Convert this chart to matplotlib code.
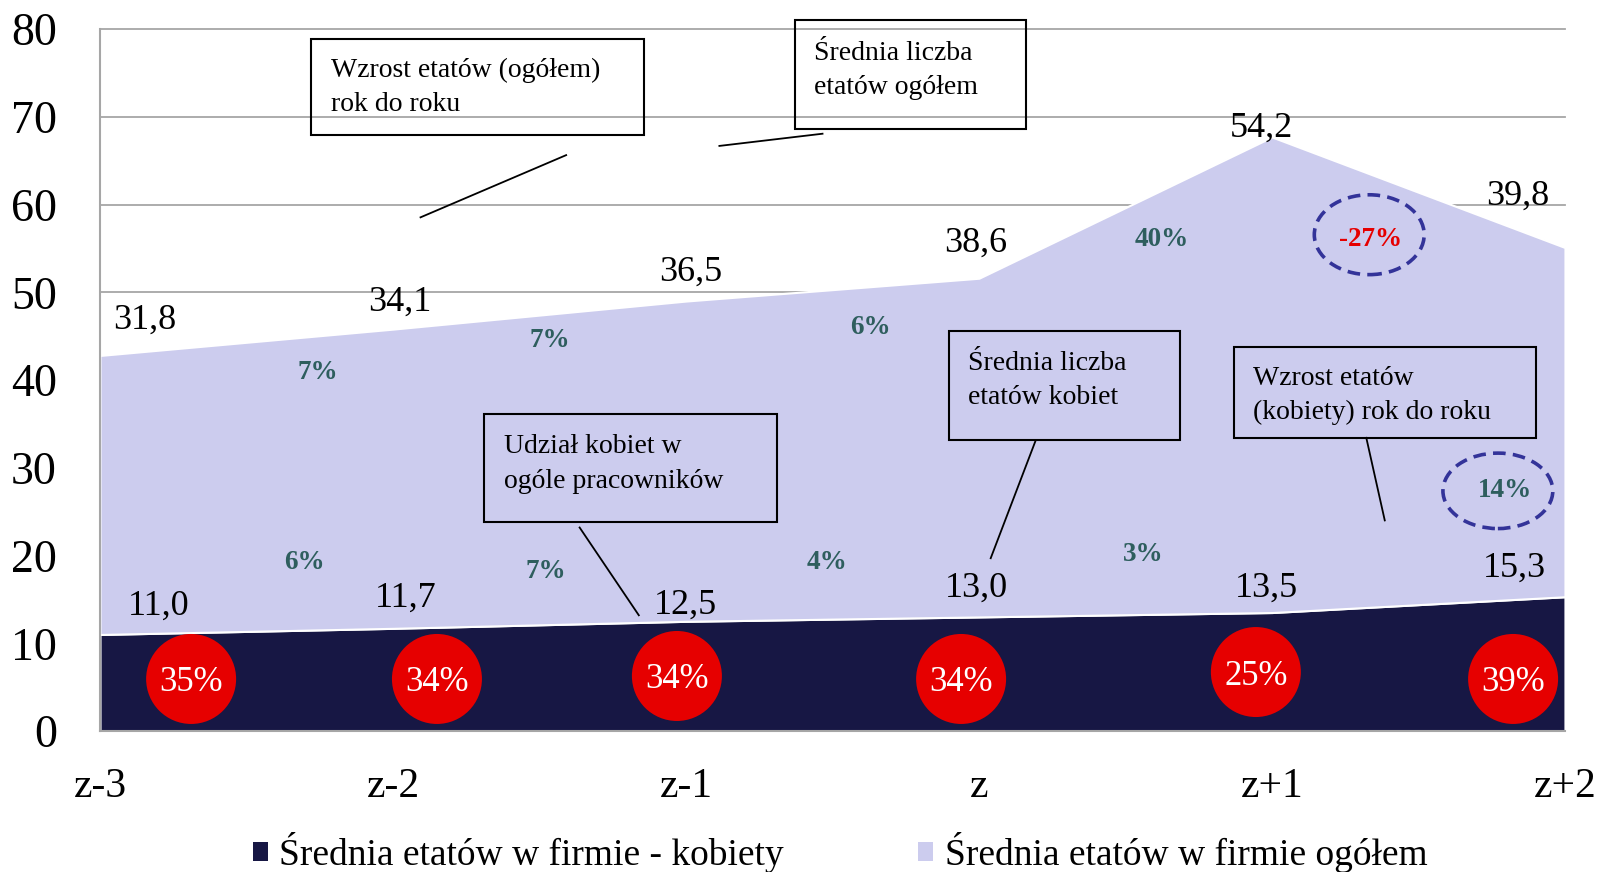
import matplotlib
matplotlib.use("Agg")
import matplotlib.pyplot as plt
from matplotlib.patches import Rectangle, Ellipse, Patch
import numpy as np

plt.rcParams['font.family'] = ['Liberation Serif', 'DejaVu Serif']

# ---- data -------------------------------------------------------------
years = ["z-3", "z-2", "z-1", "z", "z+1", "z+2"]
kobiety = [11.0, 11.7, 12.5, 13.0, 13.5, 15.3]          # average FTEs, women
ogolem = [31.8, 34.1, 36.5, 38.6, 54.2, 39.8]           # average FTEs, total
wzrost_ogolem = ["7%", "7%", "6%", "40%", "-27%"]       # y/y growth, total
wzrost_kobiety = ["6%", "7%", "4%", "3%", "14%"]        # y/y growth, women
udzial_kobiet = ["35%", "34%", "34%", "34%", "25%", "39%"]  # women share
y_ticks = list(range(0, 90, 10))
series_names = ["Średnia etatów w firmie - kobiety",
                "Średnia etatów w firmie ogółem"]

# ---- label placement (data coordinates) --------------------------------
total_label_pos = [(0.153, 47.3), (1.024, 49.35), (2.016, 52.7),
                   (2.990, 56.1), (3.963, 69.2), (4.837, 61.45)]
women_label_pos = [(0.199, 14.7), (1.045, 15.6), (1.999, 14.8),
                   (2.992, 16.7), (3.981, 16.7), (4.827, 19.0)]
growth_total_pos = [(0.742, 41.2), (1.536, 44.8), (2.629, 46.3),
                    (3.625, 56.4), (4.336, 56.4)]
growth_women_pos = [(0.697, 19.5), (1.522, 18.5), (2.480, 19.6),
                    (3.559, 20.5), (4.796, 27.7)]
share_pos = [(0.311, 5.93), (1.150, 5.93), (1.969, 6.27),
             (2.939, 5.93), (3.945, 6.72), (4.823, 5.93)]

# callout boxes: (x0, x1, y_bottom, y_top, text_x, [line centre ys], lines)
callouts = [
    (0.721, 1.856, 67.95, 78.88, 0.790, [75.63, 71.79],
     ["Wzrost etatów (ogółem)", "rok do roku"]),
    (2.372, 3.159, 68.65, 80.98, 2.438, [77.61, 73.65],
     ["Średnia liczba", "etatów ogółem"]),
    (1.309, 2.309, 23.77, 36.09, 1.379, [32.72, 28.76],
     ["Udział kobiet w", "ogóle pracowników"]),
    (2.898, 3.685, 33.18, 45.63, 2.964, [42.26, 38.30],
     ["Średnia liczba", "etatów kobiet"]),
    (3.869, 4.900, 33.41, 43.77, 3.935, [40.51, 36.67],
     ["Wzrost etatów", "(kobiety) rok do roku"]),
]
leaders = [
    ((1.591, 65.63), (1.094, 58.54)),
    ((2.466, 68.07), (2.114, 66.68)),
    ((1.637, 23.19), (1.839, 13.19)),
    ((3.193, 33.07), (3.040, 19.69)),
    ((4.322, 33.41), (4.385, 24.00)),
]
# dashed highlight ellipses: (x, y, width, height)
highlights = [(4.332, 56.56, 0.375, 9.1), (4.771, 27.37, 0.375, 8.6)]

# ---- style -------------------------------------------------------------
NAVY = "#171744"
LAVENDER = "#CCCCEE"
RED = "#E60000"
TEAL = "#2E5E5E"
DASH = "#333399"
GRID = "#A6A6A6"


def fmt(v):
    return f"{v:.1f}".replace(".", ",")


fig = plt.figure(figsize=(16, 8.72), dpi=100)
ax = fig.add_axes([0.0625, 0.1617, 0.9156, 0.805])

x = np.arange(len(years))
ax.stackplot(x, kobiety, ogolem, colors=[NAVY, LAVENDER],
             edgecolor="white", linewidth=1.5, zorder=2)

ax.set_xlim(0, len(years) - 1)
ax.set_ylim(0, 80)
ax.set_yticks(y_ticks)
ax.set_xticks(x)
ax.set_xticklabels(years)
ax.tick_params(axis="y", length=0, pad=31, labelsize=33)
ax.tick_params(axis="x", length=0, pad=26, labelsize=30)
ax.set_axisbelow(True)
ax.grid(axis="y", color=GRID, lw=1.3)
ax.grid(axis="x", visible=False)
for gl in ax.get_ygridlines():
    gl.set_clip_on(False)
for s in ["top", "right"]:
    ax.spines[s].set_visible(False)
for s in ["left", "bottom"]:
    ax.spines[s].set_color(GRID)
    ax.spines[s].set_linewidth(1.5)
    ax.spines[s].set_zorder(3)

# value labels
for (px, py), v in zip(total_label_pos, ogolem):
    ax.text(px, py, fmt(v), fontsize=26, ha="center", va="center_baseline",
            color="black", zorder=6)
for (px, py), v in zip(women_label_pos, kobiety):
    ax.text(px, py, fmt(v), fontsize=26, ha="center", va="center_baseline",
            color="black", zorder=6)

# growth labels
for (px, py), t in zip(growth_total_pos, wzrost_ogolem):
    col = RED if t.startswith("-") else TEAL
    ax.text(px, py, t, fontsize=19.5, fontweight="bold", ha="center",
            va="center_baseline", color=col, zorder=6)
for (px, py), t in zip(growth_women_pos, wzrost_kobiety):
    ax.text(px, py, t, fontsize=19.5, fontweight="bold", ha="center",
            va="center_baseline", color=TEAL, zorder=6)

# women share bubbles
sx = [p[0] for p in share_pos]
sy = [p[1] for p in share_pos]
ax.scatter(sx, sy, s=(90 * 72 / 100) ** 2, color=RED, edgecolors="none",
           zorder=4, clip_on=False)
for (px, py), t in zip(share_pos, udzial_kobiet):
    ax.text(px, py, t, fontsize=25, ha="center", va="center_baseline",
            color="white", zorder=6)

# dashed highlights
for (ex, ey, ew, eh) in highlights:
    ax.add_patch(Ellipse((ex, ey), ew, eh, fill=False, ec=DASH, lw=2.6,
                         ls=(0, (3.5, 2)), zorder=5, clip_on=False))

# callout boxes and their leader lines
for (x0, x1, yb, yt, tx, ys, lines) in callouts:
    ax.add_patch(Rectangle((x0, yb), x1 - x0, yt - yb, fill=False,
                           ec="black", lw=1.5, zorder=5, clip_on=False))
    for ly, line in zip(ys, lines):
        ax.text(tx, ly, line, fontsize=20, ha="left", va="center_baseline",
                color="black", zorder=6, clip_on=False)
for (a, b) in leaders:
    ax.plot([a[0], b[0]], [a[1], b[1]], color="black", lw=1.3, zorder=5,
            clip_on=False)

handles = [Patch(facecolor=NAVY), Patch(facecolor=LAVENDER)]
fig.legend(handles, series_names, ncol=2, loc="lower center",
           bbox_to_anchor=(0.525, -0.023), frameon=False, fontsize=27,
           handlelength=0.4, handleheight=0.4, handletextpad=0.3,
           columnspacing=3.6, borderpad=0)

fig.savefig("out.png", dpi=100)
